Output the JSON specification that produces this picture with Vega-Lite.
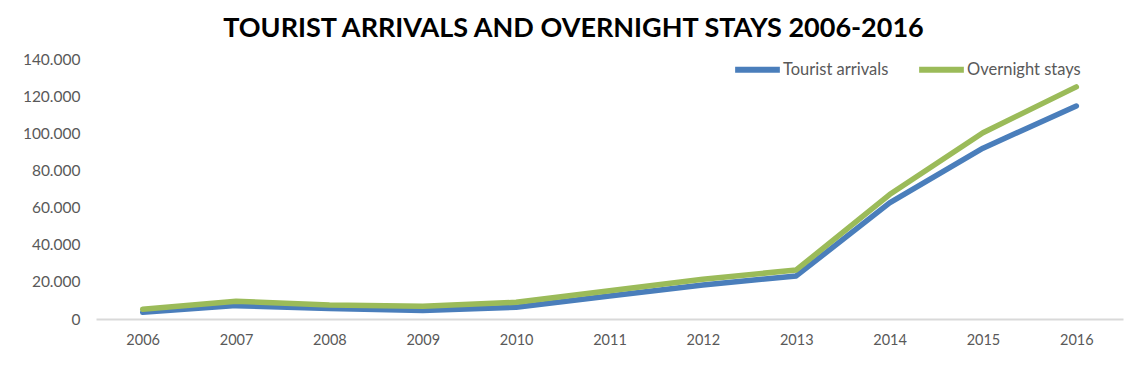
{
  "$schema": "https://vega.github.io/schema/vega-lite/v6.json",
  "width": 1027,
  "height": 260,
  "autosize": {"type": "none"},
  "padding": {"left": 96, "top": 59, "right": 6, "bottom": 55},
  "background": "white",
  "config": {"view": {"stroke": null}, "font": "Lato"},
  "title": {
    "text": "TOURIST ARRIVALS AND OVERNIGHT STAYS 2006-2016",
    "font": "Lato",
    "fontSize": 27,
    "fontWeight": "bold",
    "color": "#000000",
    "anchor": "middle",
    "dx": -36,
    "offset": 1
  },
  "data": {
    "values": [
      {"year": "2006", "series": "Tourist arrivals", "value": 3600},
      {"year": "2007", "series": "Tourist arrivals", "value": 7200},
      {"year": "2008", "series": "Tourist arrivals", "value": 5600},
      {"year": "2009", "series": "Tourist arrivals", "value": 4600},
      {"year": "2010", "series": "Tourist arrivals", "value": 6300},
      {"year": "2011", "series": "Tourist arrivals", "value": 12400},
      {"year": "2012", "series": "Tourist arrivals", "value": 18300},
      {"year": "2013", "series": "Tourist arrivals", "value": 23200},
      {"year": "2014", "series": "Tourist arrivals", "value": 62500},
      {"year": "2015", "series": "Tourist arrivals", "value": 92000},
      {"year": "2016", "series": "Tourist arrivals", "value": 114700},
      {"year": "2006", "series": "Overnight stays", "value": 5200},
      {"year": "2007", "series": "Overnight stays", "value": 9600},
      {"year": "2008", "series": "Overnight stays", "value": 7500},
      {"year": "2009", "series": "Overnight stays", "value": 6800},
      {"year": "2010", "series": "Overnight stays", "value": 9000},
      {"year": "2011", "series": "Overnight stays", "value": 15200},
      {"year": "2012", "series": "Overnight stays", "value": 21400},
      {"year": "2013", "series": "Overnight stays", "value": 26400},
      {"year": "2014", "series": "Overnight stays", "value": 67000},
      {"year": "2015", "series": "Overnight stays", "value": 100300},
      {"year": "2016", "series": "Overnight stays", "value": 125000}
    ]
  },
  "mark": {"type": "line", "strokeWidth": 5.5, "strokeCap": "round", "strokeJoin": "round"},
  "encoding": {
    "x": {
      "field": "year",
      "type": "ordinal",
      "scale": {"type": "point", "padding": 0.5},
      "axis": {
        "title": null,
        "labelAngle": 0,
        "labelFontSize": 14.5,
        "labelColor": "#595959",
        "labelPadding": 14,
        "ticks": false,
        "domainColor": "#d9d9d9",
        "domainWidth": 2,
        "grid": false
      }
    },
    "y": {
      "field": "value",
      "type": "quantitative",
      "scale": {"domain": [0, 140000]},
      "axis": {
        "title": null,
        "values": [0, 20000, 40000, 60000, 80000, 100000, 120000, 140000],
        "labelExpr": "replace(format(datum.value, ','), ',', '.')",
        "labelFontSize": 15.5,
        "labelColor": "#595959",
        "labelPadding": 16,
        "ticks": false,
        "domain": false,
        "grid": false
      }
    },
    "color": {
      "field": "series",
      "type": "nominal",
      "sort": ["Tourist arrivals", "Overnight stays"],
      "scale": {"domain": ["Tourist arrivals", "Overnight stays"], "range": ["#4a7ebb", "#9bbb59"]},
      "legend": {
        "title": null,
        "orient": "none",
        "legendX": 636,
        "legendY": -15,
        "direction": "horizontal",
        "symbolType": "stroke",
        "symbolSize": 2000,
        "symbolStrokeWidth": 6,
        "labelFontSize": 16.5,
        "labelColor": "#595959",
        "labelOffset": 0,
        "columnPadding": 18
      }
    }
  }
}
